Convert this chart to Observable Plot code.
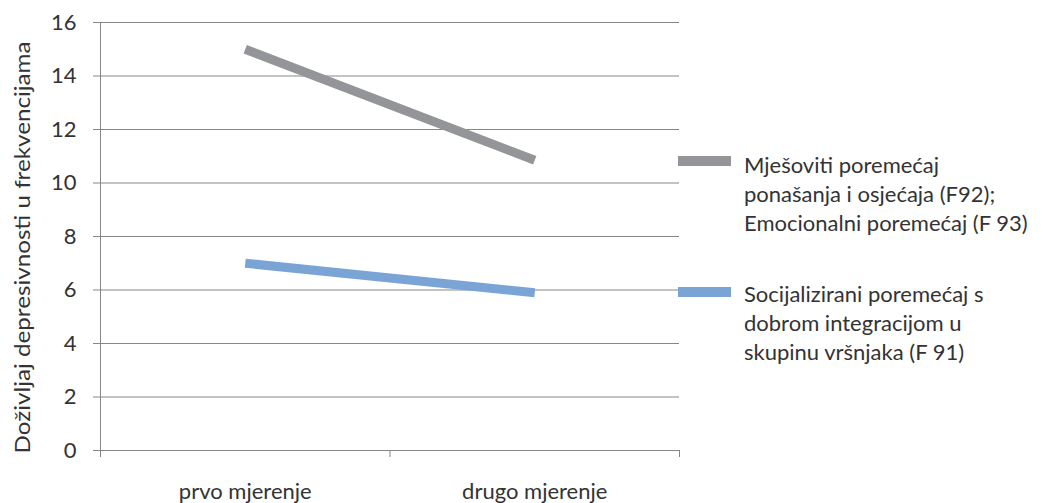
<!DOCTYPE html>
<html>
<head>
<meta charset="utf-8">
<script src="https://cdn.jsdelivr.net/npm/d3@7"></script>
<script src="https://cdn.jsdelivr.net/npm/@observablehq/plot@0.6"></script>
<style>
  html, body { margin: 0; padding: 0; background: #fff; }
  #wrap { position: relative; width: 1043px; height: 503px; font-family: Lato, "Open Sans", sans-serif; }
  .entry { position: absolute; left: 744px; font-size: 22px; line-height: 29px; color: #333; white-space: nowrap; }
  .swatch { position: absolute; left: 678px; width: 53px; height: 10px; }
</style>
</head>
<body>
<div id="wrap"></div>
<script>
const categories = ["prvo mjerenje", "drugo mjerenje"];
const seriesNames = [
  "Mješoviti poremećaj ponašanja i osjećaja (F92); Emocionalni poremećaj (F 93)",
  "Socijalizirani poremećaj s dobrom integracijom u skupinu vršnjaka (F 91)"
];
const legendLines = [
  ["Mješoviti poremećaj", "ponašanja i osjećaja (F92);", "Emocionalni poremećaj (F 93)"],
  ["Socijalizirani poremećaj s", "dobrom integracijom u", "skupinu vršnjaka (F 91)"]
];
const mixedValues = [15.0, 10.85];
const socialValues = [7.0, 5.9];
const yTicks = [0, 2, 4, 6, 8, 10, 12, 14, 16];
const yTitle = "Doživljaj depresivnosti u frekvencijama";
const colors = ["#949599", "#7ba4d6"];

const data = [];
[mixedValues, socialValues].forEach((vals, s) => {
  vals.forEach((v, i) => data.push({series: seriesNames[s], pos: i + 0.5, value: v}));
});
const catPositions = categories.map((c, i) => i + 0.5);
const boundaries = d3.range(categories.length + 1);

const axisColor = "#878787";
const chart = Plot.plot({
  width: 1043,
  height: 503,
  marginLeft: 100,
  marginRight: 364,
  marginTop: 22,
  marginBottom: 53,
  style: {fontFamily: "Lato, 'Open Sans', sans-serif", fontSize: "22px", color: "#333", background: "#fff"},
  x: {type: "linear", domain: [0, categories.length]},
  y: {domain: [0, 16]},
  color: {domain: seriesNames, range: colors},
  marks: [
    Plot.gridY(yTicks, {stroke: axisColor, strokeOpacity: 1, strokeWidth: 1}),
    Plot.axisY(yTicks, {tickSize: 7, tickPadding: 17, stroke: axisColor, fill: "#333", label: null, fontSize: 22}),
    Plot.ruleX([0], {stroke: axisColor}),
    Plot.ruleY([0], {stroke: axisColor}),
    Plot.axisX(boundaries, {tickSize: 7, tickFormat: () => "", stroke: axisColor, label: null}),
    Plot.axisX(catPositions, {tickSize: 0, tickPadding: 33, tickFormat: (d) => categories[Math.round(d - 0.5)], fill: "#333", label: null, fontSize: 22}),
    Plot.text([yTitle], {frameAnchor: "left", textAnchor: "middle", rotate: -90, dx: -78, dy: 11, fill: "#333", fontSize: 22}),
    Plot.line(data, {x: "pos", y: "value", z: "series", stroke: "series", strokeWidth: 9, strokeLinecap: "butt", strokeLinejoin: "miter"})
  ]
});
const wrap = document.getElementById("wrap");
wrap.appendChild(chart);
chart.querySelectorAll("text").forEach(t => {
  if (t.textContent.indexOf("Doživljaj") >= 0) {
    t.setAttribute("textLength", "412");
    t.setAttribute("lengthAdjust", "spacingAndGlyphs");
  }
});

const swatchTops = [156, 287];
const entryTops = [150, 279];
seriesNames.forEach((s, i) => {
  const sw = document.createElement("div");
  sw.className = "swatch";
  sw.style.top = swatchTops[i] + "px";
  sw.style.background = colors[i];
  wrap.appendChild(sw);
  const e = document.createElement("div");
  e.className = "entry";
  e.style.top = entryTops[i] + "px";
  e.innerHTML = legendLines[i].join("<br>");
  wrap.appendChild(e);
});
chart.style.position = "absolute";
chart.style.left = "0";
chart.style.top = "0";
</script>
</body>
</html>
